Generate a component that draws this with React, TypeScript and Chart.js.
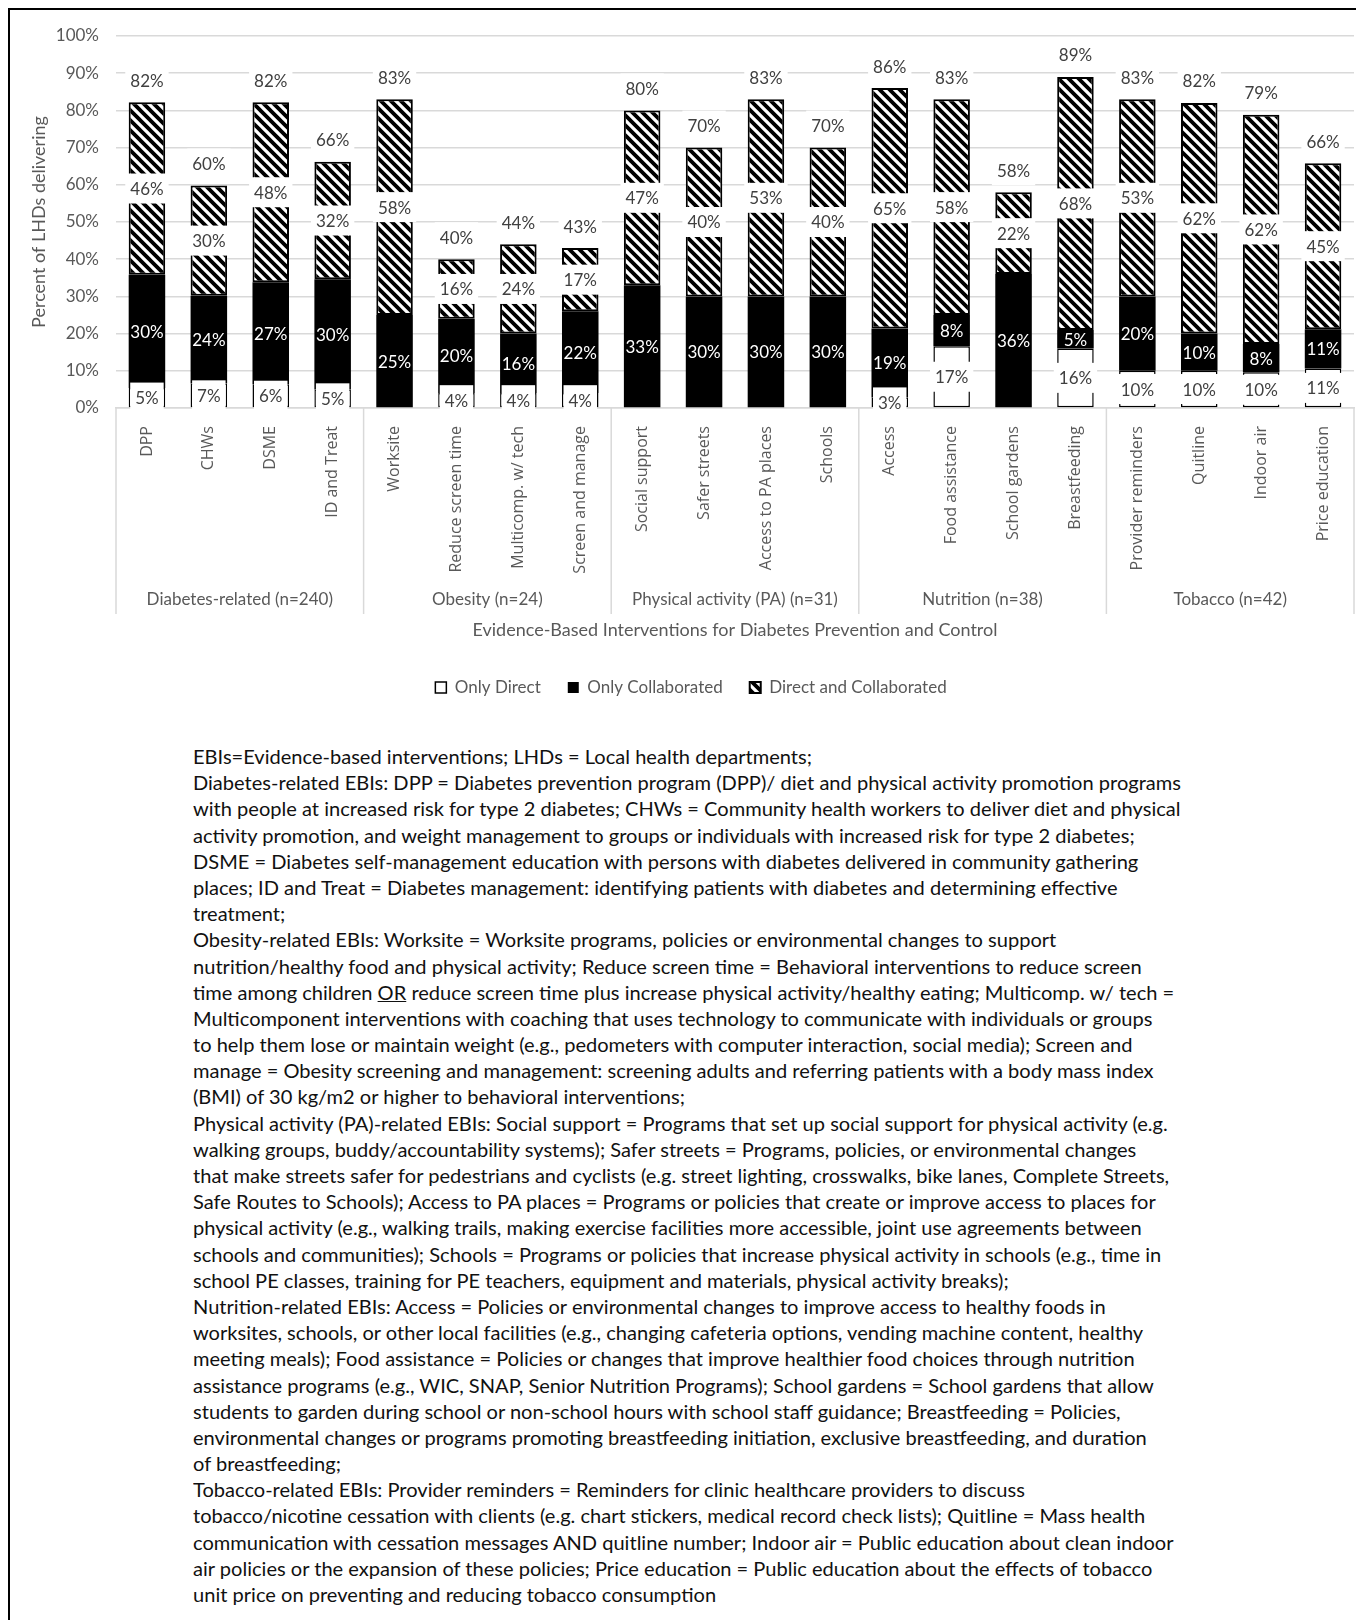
import React, { useEffect, useRef, useState } from 'react';
import { Chart, registerables } from 'chart.js';

Chart.register(...registerables);

// ---------- data ----------
const categories = [
  'DPP', 'CHWs', 'DSME', 'ID and Treat',
  'Worksite', 'Reduce screen time', 'Multicomp. w/ tech', 'Screen and manage',
  'Social support', 'Safer streets', 'Access to PA places', 'Schools',
  'Access', 'Food assistance', 'School gardens', 'Breastfeeding',
  'Provider reminders', 'Quitline', 'Indoor air', 'Price education',
];
const groups = [
  'Diabetes-related (n=240)',
  'Obesity (n=24)',
  'Physical activity (PA) (n=31)',
  'Nutrition (n=38)',
  'Tobacco (n=42)',
];
const groupSizes = [4, 4, 4, 4, 4];
const seriesNames = ['Only Direct', 'Only Collaborated', 'Direct and Collaborated'];
const onlyDirect = [5.4, 6.6, 6.4, 5.0, 0, 4, 4, 4, 0, 0, 0, 0, 2.8, 16.6, 0, 16, 10, 10, 9.6, 10.6];
const onlyCollaborated = [30.4, 23.6, 27.4, 29.6, 25, 20, 16, 22, 33, 30, 30, 30, 18.6, 8.4, 36, 5, 20, 10, 7.6, 10.6];
const directAndCollaborated = [46.4, 29.6, 48.4, 31.6, 58, 16, 24, 17, 47, 40, 53, 40, 64.6, 58, 22, 68, 53, 62, 61.6, 44.6];
const yMin = 0;
const yMax = 100;
const yStep = 10;
const xTitle = 'Evidence-Based Interventions for Diabetes Prevention and Control';
const yTitle = 'Percent of LHDs delivering';

const captionLines = [
  'EBIs=Evidence-based interventions; LHDs = Local health departments;',
  'Diabetes-related EBIs: DPP = Diabetes prevention program (DPP)/ diet and physical activity promotion programs',
  'with people at increased risk for type 2 diabetes; CHWs = Community health workers to deliver diet and physical',
  'activity promotion, and weight management to groups or individuals with increased risk for type 2 diabetes;',
  'DSME = Diabetes self-management education with persons with diabetes delivered in community gathering',
  'places; ID and Treat = Diabetes management: identifying patients with diabetes and determining effective',
  'treatment;',
  'Obesity-related EBIs: Worksite = Worksite programs, policies or environmental changes to support',
  'nutrition/healthy food and physical activity; Reduce screen time = Behavioral interventions to reduce screen',
  'time among children _OR_ reduce screen time plus increase physical activity/healthy eating; Multicomp. w/ tech =',
  'Multicomponent interventions with coaching that uses technology to communicate with individuals or groups',
  'to help them lose or maintain weight (e.g., pedometers with computer interaction, social media); Screen and',
  'manage = Obesity screening and management: screening adults and referring patients with a body mass index',
  '(BMI) of 30 kg/m2 or higher to behavioral interventions;',
  'Physical activity (PA)-related EBIs: Social support = Programs that set up social support for physical activity (e.g.',
  'walking groups, buddy/accountability systems); Safer streets = Programs, policies, or environmental changes',
  'that make streets safer for pedestrians and cyclists (e.g. street lighting, crosswalks, bike lanes, Complete Streets,',
  'Safe Routes to Schools); Access to PA places = Programs or policies that create or improve access to places for',
  'physical activity (e.g., walking trails, making exercise facilities more accessible, joint use agreements between',
  'schools and communities); Schools = Programs or policies that increase physical activity in schools (e.g., time in',
  'school PE classes, training for PE teachers, equipment and materials, physical activity breaks);',
  'Nutrition-related EBIs: Access = Policies or environmental changes to improve access to healthy foods in',
  'worksites, schools, or other local facilities (e.g., changing cafeteria options, vending machine content, healthy',
  'meeting meals); Food assistance = Policies or changes that improve healthier food choices through nutrition',
  'assistance programs (e.g., WIC, SNAP, Senior Nutrition Programs); School gardens = School gardens that allow',
  'students to garden during school or non-school hours with school staff guidance; Breastfeeding = Policies,',
  'environmental changes or programs promoting breastfeeding initiation, exclusive breastfeeding, and duration',
  'of breastfeeding;',
  'Tobacco-related EBIs: Provider reminders = Reminders for clinic healthcare providers to discuss',
  'tobacco/nicotine cessation with clients (e.g. chart stickers, medical record check lists); Quitline = Mass health',
  'communication with cessation messages AND quitline number; Indoor air = Public education about clean indoor',
  'air policies or the expansion of these policies; Price education = Public education about the effects of tobacco',
  'unit price on preventing and reducing tobacco consumption',
];

// ---------- style constants ----------
const GRID = '#d9d9d9';
const AXIS_TEXT = '#595959';
const LABEL_TEXT = '#404040';
const FONT = 'Lato';
const CAPTION_FONT_SIZE = 19;
const CAPTION_TARGET_WIDTH = 989;
const BOTTOM_PAD = 34;

function makeHatch(): CanvasPattern | string {
  const s = 10;
  const c = document.createElement('canvas');
  c.width = s;
  c.height = s;
  const g = c.getContext('2d');
  if (!g) return '#888';
  g.fillStyle = '#fff';
  g.fillRect(0, 0, s, s);
  g.strokeStyle = '#000';
  g.lineWidth = 3.8;
  g.beginPath();
  for (const k of [-s, 0, s]) {
    g.moveTo(k - 3, -3);
    g.lineTo(k + s + 3, s + 3);
  }
  g.stroke();
  return g.createPattern(c, 'repeat') || '#888';
}

function drawBoxLabel(ctx: CanvasRenderingContext2D, text: string, x: number, y: number) {
  const w = ctx.measureText(text).width + 10;
  const h = 30;
  ctx.fillStyle = '#fff';
  ctx.fillRect(x - w / 2, y - h / 2, w, h);
  ctx.fillStyle = LABEL_TEXT;
  ctx.fillText(text, x, y + 1);
}

const segmentLabels = {
  id: 'segmentLabels',
  afterDatasetsDraw(chart: any) {
    const ctx: CanvasRenderingContext2D = chart.ctx;
    ctx.save();
    ctx.font = `17px ${FONT}`;
    ctx.textAlign = 'center';
    ctx.textBaseline = 'middle';
    chart.data.datasets.forEach((ds: any, di: number) => {
      const meta = chart.getDatasetMeta(di);
      meta.data.forEach((el: any, i: number) => {
        const v = ds.data[i];
        if (!v) return;
        const txt = Math.round(v) + '%';
        const cy = (el.y + el.base) / 2;
        if (di === 1) {
          ctx.fillStyle = '#fff';
          ctx.fillText(txt, el.x, cy + 1);
        } else {
          drawBoxLabel(ctx, txt, el.x, cy);
        }
      });
    });
    const topMeta = chart.getDatasetMeta(2);
    topMeta.data.forEach((el: any, i: number) => {
      const total = onlyDirect[i] + onlyCollaborated[i] + directAndCollaborated[i];
      drawBoxLabel(ctx, Math.round(total) + '%', el.x, el.y - 22);
    });
    ctx.restore();
  },
};

const groupAxis = {
  id: 'groupAxis',
  afterDraw(chart: any) {
    const ctx: CanvasRenderingContext2D = chart.ctx;
    const area = chart.chartArea;
    const xs = chart.scales.x;
    const cw = (area.right - area.left) / categories.length;
    const bounds: number[] = [xs.getPixelForValue(0) - cw / 2];
    let idx = 0;
    groupSizes.forEach((n) => {
      idx += n;
      bounds.push(xs.getPixelForValue(idx - 1) + cw / 2);
    });
    ctx.save();
    ctx.strokeStyle = GRID;
    ctx.lineWidth = 1.5;
    bounds.forEach((bx) => {
      ctx.beginPath();
      ctx.moveTo(bx, area.bottom);
      ctx.lineTo(bx, area.bottom + 206);
      ctx.stroke();
    });
    ctx.fillStyle = AXIS_TEXT;
    ctx.textAlign = 'center';
    ctx.textBaseline = 'middle';
    ctx.font = `17px ${FONT}`;
    groups.forEach((g, gi) => {
      ctx.fillText(g, (bounds[gi] + bounds[gi + 1]) / 2, area.bottom + 192);
    });
    ctx.font = `18px ${FONT}`;
    ctx.fillText(xTitle, (area.left + area.right) / 2, area.bottom + 222);
    ctx.restore();
  },
};

function ChartCanvas() {
  const ref = useRef<HTMLCanvasElement | null>(null);
  useEffect(() => {
    let chart: Chart | null = null;
    let cancelled = false;
    const build = () => {
      if (cancelled || !ref.current) return;
      const hatch = makeHatch();
      chart = new Chart(ref.current, {
        type: 'bar',
        data: {
          labels: categories,
          datasets: [
            {
              label: seriesNames[0],
              data: onlyDirect,
              backgroundColor: '#fff',
              borderColor: '#000',
              borderWidth: 1.5,
              borderSkipped: false,
            },
            {
              label: seriesNames[1],
              data: onlyCollaborated,
              backgroundColor: '#000',
              borderColor: '#000',
              borderWidth: 0,
            },
            {
              label: seriesNames[2],
              data: directAndCollaborated,
              backgroundColor: hatch as any,
              borderColor: '#000',
              borderWidth: 2,
              borderSkipped: false,
            },
          ],
        },
        options: {
          responsive: false,
          animation: false,
          devicePixelRatio: 1,
          layout: { padding: { top: 36, right: 2, left: 28, bottom: BOTTOM_PAD } },
          datasets: { bar: { barPercentage: 0.59, categoryPercentage: 1 } },
          scales: {
            x: {
              stacked: true,
              grid: { display: false },
              border: { display: true, color: GRID, width: 1.5 },
              ticks: {
                autoSkip: false,
                minRotation: 90,
                maxRotation: 90,
                padding: 10,
                color: AXIS_TEXT,
                font: { family: 'Open Sans', size: 16 },
              },
              afterFit: (s: any) => {
                const lg = s.chart.legend;
                const lh = lg ? lg.height : 0;
                s.height = s.chart.height - BOTTOM_PAD - lh - 408;
              },
            } as any,
            y: {
              stacked: true,
              min: yMin,
              max: yMax,
              ticks: {
                stepSize: yStep,
                padding: 17,
                color: AXIS_TEXT,
                font: { family: FONT, size: 17 },
                callback: (v: any) => v + '%',
              },
              grid: { color: GRID, lineWidth: 1.5, drawTicks: false },
              border: { display: false },
              title: {
                display: true,
                text: yTitle,
                color: AXIS_TEXT,
                font: { family: FONT, size: 18 },
                padding: { top: 0, bottom: 0 },
              },
              afterFit: (s: any) => {
                s.width = 116 - 28;
              },
            } as any,
          },
          plugins: {
            legend: {
              position: 'bottom',
              labels: {
                boxWidth: 11,
                boxHeight: 11,
                padding: 27,
                color: AXIS_TEXT,
                font: { family: FONT, size: 17 },
              },
            },
            tooltip: { enabled: false },
          },
        },
        plugins: [segmentLabels, groupAxis],
      });
    };
    const fonts: any = (document as any).fonts;
    if (fonts && fonts.load) {
      Promise.all([
        fonts.load(`17px ${FONT}`),
        fonts.load('16px "Open Sans"'),
      ]).then(build, build);
    } else {
      build();
    }
    return () => {
      cancelled = true;
      if (chart) chart.destroy();
    };
  }, []);
  return (
    <canvas
      ref={ref}
      width={1356}
      height={740}
      style={{ position: 'absolute', left: 0, top: 0, width: 1356, height: 740 }}
    />
  );
}

function CaptionLine({ text }: { text: string }) {
  const parts = text.split('_');
  return (
    <div style={{ height: 26.19, lineHeight: '26.19px', whiteSpace: 'nowrap' }}>
      {parts.map((p, i) => (i % 2 === 1 ? <u key={i}>{p}</u> : <span key={i}>{p}</span>))}
    </div>
  );
}

export default function App() {
  const [scale, setScale] = useState(1);
  useEffect(() => {
    const measure = () => {
      const c = document.createElement('canvas');
      const g = c.getContext('2d');
      if (!g) return;
      g.font = `${CAPTION_FONT_SIZE}px ${FONT}`;
      const w = g.measureText(captionLines[1]).width;
      if (w > 0) setScale(CAPTION_TARGET_WIDTH / w);
    };
    const fonts: any = (document as any).fonts;
    if (fonts && fonts.load) fonts.load(`${CAPTION_FONT_SIZE}px ${FONT}`).then(measure, measure);
    else measure();
  }, []);

  return (
    <div
      style={{
        position: 'fixed',
        left: 0,
        top: 0,
        width: 1356,
        height: 1620,
        overflow: 'hidden',
        background: '#fff',
      }}
    >
      <div
        style={{
          position: 'absolute',
          left: 8,
          top: 8,
          width: 1400,
          height: 1700,
          borderLeft: '2px solid #000',
          borderTop: '2px solid #000',
        }}
      />
      <ChartCanvas />
      <div
        style={{
          position: 'absolute',
          left: 193,
          top: 744,
          fontFamily: FONT,
          fontSize: CAPTION_FONT_SIZE,
          color: '#111',
          transform: `scaleX(${scale})`,
          transformOrigin: '0 0',
        }}
      >
        {captionLines.map((l, i) => (
          <CaptionLine key={i} text={l} />
        ))}
      </div>
    </div>
  );
}
